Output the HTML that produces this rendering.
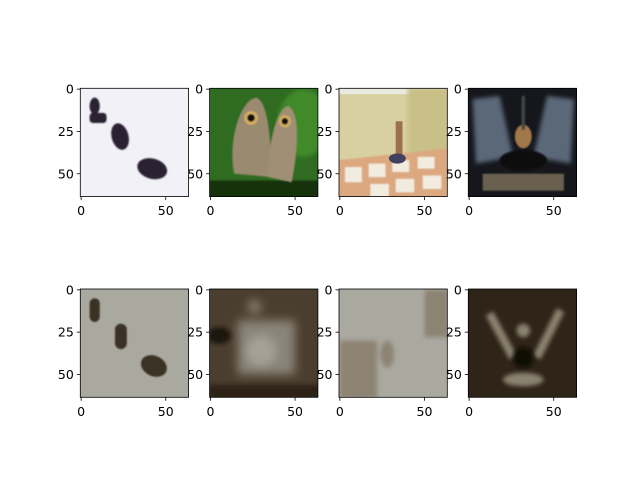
<!DOCTYPE html>
<html><head><meta charset="utf-8"><style>
html,body{margin:0;padding:0;background:#fff;}
svg text{font-family:"DejaVu Sans","Liberation Sans",sans-serif;font-size:12.5px;fill:#000;}
</style></head><body>
<svg id="fig" width="640" height="480" viewBox="0 0 640 480" xmlns="http://www.w3.org/2000/svg">
<defs>
<filter id="b1" x="-50%" y="-50%" width="200%" height="200%"><feGaussianBlur stdDeviation="0.5"/></filter>
<filter id="b2" x="-50%" y="-50%" width="200%" height="200%"><feGaussianBlur stdDeviation="1.3"/></filter>
<filter id="b3" x="-50%" y="-50%" width="200%" height="200%"><feGaussianBlur stdDeviation="2.8"/></filter>
<clipPath id="cp"><rect x="-0.5" y="-0.5" width="64" height="64"/></clipPath>
</defs>
<rect width="640" height="480" fill="#fff"/>
<g id="panels"></g>
</svg>
<script>
const colsX=[80.3,209.6,339,468.3];
const rowsY=[88.3,289];
const size=108.3;
const xTicks=[0,50];
const yTicks=[0,25,50];
const extent=64;
const panelNames=['img-bugs','img-butterfly','img-room','img-hangar','recon-bugs','recon-butterfly','recon-room','recon-hangar'];
const art=[
`<rect x="-1" y="-1" width="66" height="66" fill="#f1f1f7"/>
<g filter="url(#b1)" fill="#2a2430">
<ellipse cx="8" cy="10" rx="3" ry="5"/><rect x="5" y="14" width="10" height="6" rx="2"/>
<ellipse cx="23" cy="28" rx="5" ry="8" transform="rotate(-15 23 28)"/>
<ellipse cx="42" cy="47" rx="9" ry="6" transform="rotate(15 42 47)"/></g>`,
`<rect x="-1" y="-1" width="66" height="66" fill="#2f6b20"/>
<ellipse cx="55" cy="20" rx="15" ry="20" fill="#3f8a2c" filter="url(#b2)"/>
<rect x="-1" y="54" width="66" height="11" fill="#14300c" filter="url(#b1)"/>
<g filter="url(#b1)"><path d="M14,50 C10,30 18,6 27,5 C34,7 36,30 36,52 Z" fill="#9a8a70"/>
<path d="M34,52 C34,30 40,10 46,10 C53,13 52,35 48,55 Z" fill="#a08f74"/>
<circle cx="24" cy="17" r="4" fill="#d8b060"/><circle cx="24" cy="17" r="2.3" fill="#111"/>
<circle cx="44" cy="19" r="3.5" fill="#d8b060"/><circle cx="44" cy="19" r="2" fill="#111"/></g>`,
`<rect x="-1" y="-1" width="66" height="66" fill="#d8d0a0"/>
<rect x="-1" y="-1" width="66" height="4" fill="#eaeae0"/>
<rect x="40" y="-1" width="25" height="40" fill="#c9c088" filter="url(#b2)"/>
<path d="M-1,42 L64,35 L64,65 L-1,65 Z" fill="#dca880" filter="url(#b1)"/>
<g fill="#f2ece0" filter="url(#b1)"><rect x="3" y="46" width="10" height="9"/><rect x="17" y="44" width="10" height="8"/><rect x="31" y="42" width="10" height="7"/><rect x="46" y="40" width="10" height="7"/><rect x="18" y="56" width="11" height="8"/><rect x="33" y="53" width="11" height="8"/><rect x="49" y="51" width="11" height="8"/></g>
<rect x="33" y="19" width="4" height="22" fill="#9a7050"/><ellipse cx="34" cy="41" rx="5" ry="3" fill="#404060"/>`,
`<rect x="-1" y="-1" width="66" height="66" fill="#15171c"/>
<g filter="url(#b2)"><path d="M2,6 L18,4 L26,40 L4,44 Z" fill="#5a6878"/><path d="M62,6 L46,4 L38,40 L60,44 Z" fill="#5a6878"/></g>
<g filter="url(#b1)"><ellipse cx="32" cy="28" rx="5" ry="7" fill="#a07848"/><rect x="31" y="4" width="2" height="20" fill="#444"/><rect x="8" y="50" width="48" height="10" fill="#6a6050"/></g>
<ellipse cx="32" cy="42" rx="14" ry="6" fill="#0a0a0a" filter="url(#b1)"/>`,
`<rect x="-1" y="-1" width="66" height="66" fill="#aaa9a0"/>
<g filter="url(#b1)" fill="#3a3025"><rect x="5" y="5" width="6" height="14" rx="3"/><rect x="20" y="20" width="7" height="15" rx="3.5"/><ellipse cx="43" cy="45" rx="8" ry="6" transform="rotate(25 43 45)"/></g>`,
`<rect x="-1" y="-1" width="66" height="66" fill="#4a3e2e"/>
<g filter="url(#b3)"><rect x="16" y="18" width="34" height="32" fill="#8a8478"/><ellipse cx="30" cy="36" rx="9" ry="9" fill="#a5a295"/><ellipse cx="26" cy="10" rx="4" ry="4" fill="#8a8272"/></g>
<rect x="-1" y="56" width="66" height="9" fill="#2e2418" filter="url(#b2)"/>
<ellipse cx="5" cy="27" rx="7" ry="5" fill="#1e160e" filter="url(#b2)"/>`,
`<rect x="-1" y="-1" width="66" height="66" fill="#aaa9a0"/>
<g filter="url(#b2)" fill="#8d8373"><rect x="50" y="0" width="14" height="28"/><rect x="0" y="30" width="22" height="34"/><ellipse cx="28" cy="38" rx="4" ry="8"/></g>`,
`<rect x="-1" y="-1" width="66" height="66" fill="#2e2418"/>
<g filter="url(#b2)" stroke="#8a8270" stroke-width="5" fill="none"><path d="M12,14 L26,40"/><path d="M54,12 L40,40"/></g>
<g filter="url(#b2)" fill="#8a8270"><ellipse cx="32" cy="24" rx="4" ry="4"/><ellipse cx="32" cy="53" rx="12" ry="4"/></g>
<ellipse cx="32" cy="40" rx="6" ry="6" fill="#0e0a06" filter="url(#b2)"/>`
];
const NS='http://www.w3.org/2000/svg';
const root=document.getElementById('panels');
function sx(v,x0){return x0+(v+0.5)*size/extent;}
function sy(v,y0){return y0+(v+0.5)*size/extent;}
let k=0;
for(let r=0;r<2;r++){for(let c=0;c<4;c++){
 const x0=colsX[c],y0=rowsY[r];
 const g=document.createElementNS(NS,'g');
 
 
 const s=document.createElementNS(NS,'svg');
 s.setAttribute('x',x0);s.setAttribute('y',y0);s.setAttribute('width',size);s.setAttribute('height',size);
 s.setAttribute('viewBox','-0.5 -0.5 64 64');s.setAttribute('preserveAspectRatio','none');
 
 
 s.innerHTML='<g clip-path="url(#cp)">'+art[k]+'</g>';
 g.appendChild(s);
 let h='<rect x="'+x0+'" y="'+y0+'" width="'+size+'" height="'+size+'" fill="none" stroke="#000" stroke-width="0.8"/>';
 xTicks.forEach(t=>{const X=sx(t,x0);h+='<line x1="'+X+'" y1="'+(y0+size)+'" x2="'+X+'" y2="'+(y0+size+3.5)+'" stroke="#000" stroke-width="0.8"/><text x="'+X+'" y="'+(y0+size+18.5)+'" text-anchor="middle">'+t+'</text>';});
 yTicks.forEach(t=>{const Y=sy(t,y0);h+='<line x1="'+x0+'" y1="'+Y+'" x2="'+(x0-3.5)+'" y2="'+Y+'" stroke="#000" stroke-width="0.8"/><text x="'+(x0-6.5)+'" y="'+(Y+4.5)+'" text-anchor="end">'+t+'</text>';});
 const a=document.createElementNS(NS,'g');
 
 
 a.innerHTML=h;g.appendChild(a);
 root.appendChild(g);k++;
}}
</script>
</body></html>
